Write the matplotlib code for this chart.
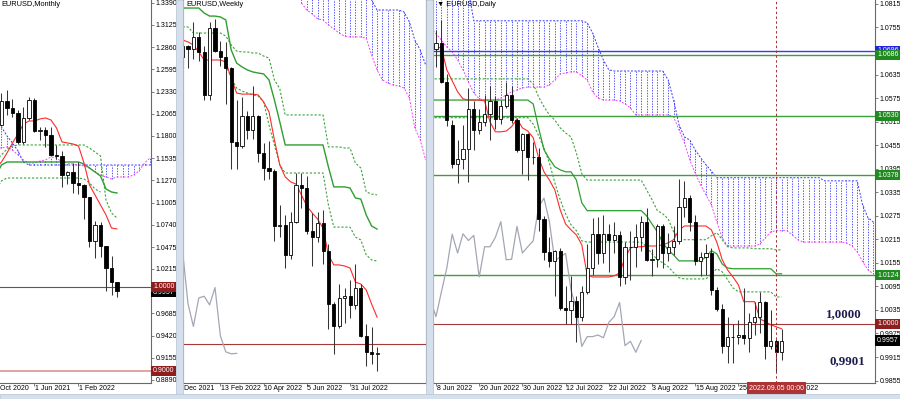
import numpy as np
import matplotlib
matplotlib.use("Agg")
import matplotlib.pyplot as plt
from matplotlib.patches import Rectangle
from matplotlib import transforms

plt.rcParams['font.family'] = ['Liberation Sans', 'DejaVu Sans']

# ---------------- MONTHLY (index 0 = Dec 2020) ----------------
m_start = -1
m_open = [1.1646, 1.1926, 1.2216, 1.2136, 1.2075, 1.1730, 1.2020, 1.2228, 1.1858, 1.1870, 1.1807, 1.1578,
          1.1558, 1.1338, 1.1370, 1.1235, 1.1220, 1.1067, 1.0545, 1.0734, 1.0484, 1.0220, 1.0054]
m_high = [1.2004, 1.2310, 1.2350, 1.2243, 1.2113, 1.2150, 1.2266, 1.2254, 1.1909, 1.1902, 1.1909, 1.1692,
          1.1616, 1.1386, 1.1483, 1.1495, 1.1233, 1.1076, 1.0787, 1.0774, 1.0485, 1.0368, 1.0057]
m_low = [1.1603, 1.1924, 1.2053, 1.2023, 1.1704, 1.1704, 1.1986, 1.1847, 1.1752, 1.1664, 1.1563, 1.1524,
         1.1186, 1.1222, 1.1121, 1.1106, 1.0806, 1.0472, 1.0349, 1.0358, 0.9952, 0.9900, 0.9876]
m_close = [1.1926, 1.2216, 1.2136, 1.2075, 1.1730, 1.2020, 1.2228, 1.1858, 1.1870, 1.1807, 1.1578, 1.1558,
           1.1338, 1.1370, 1.1235, 1.1220, 1.1067, 1.0545, 1.0734, 1.0484, 1.0220, 1.0054, 0.9957]
m_tenkan = [1.1418, 1.1490, 1.1597, 1.1717, 1.1824, 1.1943, 1.1979, 1.1979, 1.2003, 1.2015, 1.1991, 1.1896,
            1.1729, 1.1717, 1.1705, 1.1681, 1.1478, 1.1216, 1.1097, 1.0977, 1.0858, 1.0703, 1.0691]
m_kijun = [1.1335, 1.1454, 1.1490, 1.1490, 1.1490, 1.1490, 1.1490, 1.1490, 1.1490, 1.1490, 1.1490, 1.1490,
           1.1490, 1.1490, 1.1490, 1.1490, 1.1466, 1.1418, 1.1371, 1.1323, 1.1168, 1.1132, 1.1120]
m_dash_up = [1.1514, 1.1574, 1.1645, 1.1681, 1.1693, 1.1693, 1.1693, 1.1693, 1.1693, 1.1693, 1.1693, 1.1693,
             1.1693, 1.1693, 1.1693, 1.1693, 1.1693, 1.1657, 1.1609, 1.1562, 1.1037, 1.0882, 1.0822]
m_dash_lo = [1.1156, 1.1264, 1.1299, 1.1299, 1.1299, 1.1299, 1.1299, 1.1299, 1.1299, 1.1299, 1.1299, 1.1299,
             1.1299, 1.1299, 1.1299, 1.1299, 1.1287, 1.1240, 1.1168, 1.1132]
m_span_a = [1.1990, 1.1907, 1.1800, 1.1717, 1.1621, 1.1490, 1.1454, 1.1454, 1.1454, 1.1454, 1.1454, 1.1454,
            1.1454, 1.1454, 1.1454, 1.1454, 1.1454, 1.1454, 1.1454, 1.1454, 1.1454, 1.1454, 1.1454, 1.1454,
            1.1454, 1.1454, 1.1454, 1.1454, 1.1454]
m_span_b = [1.1657, 1.1657, 1.1669, 1.1633, 1.1574, 1.1514, 1.1478, 1.1478, 1.1502, 1.1514, 1.1550, 1.1538,
            1.1490, 1.1478, 1.1466, 1.1454, 1.1442, 1.1418, 1.1371, 1.1335, 1.1311, 1.1288, 1.1311, 1.1311,
            1.1311, 1.1335, 1.1383, 1.1478, 1.1538]
m_yticks = [1.3390, 1.3125, 1.2860, 1.2595, 1.2330, 1.2065, 1.1800, 1.1535, 1.1270, 1.1005, 1.0740,
            1.0475, 1.0215, 0.9685, 0.9420, 0.9155, 0.8890]
m_xticks = [6, 14]
m_xlabels = ["1 Jun 2021", "1 Feb 2022"]

# ---------------- WEEKLY (index 0 = 26 Dec 2021) ----------------
w_start = -1
w_open = [1.1238, 1.1320, 1.1370, 1.1359, 1.1413, 1.1345, 1.1145, 1.1452, 1.1348, 1.1322, 1.1269, 1.0931,
          1.0912, 1.1050, 1.0985, 1.1049, 1.0877, 1.0811, 1.0798, 1.0545, 1.0548, 1.0411, 1.0562, 1.0733,
          1.0718, 1.0519, 1.0494, 1.0555, 1.0426, 1.0185, 1.0081, 1.0212, 1.0220, 1.0180, 1.0260, 1.0037,
          0.9964, 0.9955]
w_high = [1.1360, 1.1386, 1.1376, 1.1483, 1.1435, 1.1370, 1.1483, 1.1495, 1.1395, 1.1390, 1.1274, 1.1121,
          1.1137, 1.1070, 1.1185, 1.1054, 1.0924, 1.0936, 1.0806, 1.0642, 1.0593, 1.0608, 1.0788, 1.0787,
          1.0774, 1.0601, 1.0606, 1.0615, 1.0462, 1.0194, 1.0278, 1.0258, 1.0294, 1.0368, 1.0277, 1.0090,
          1.0080, 0.9986]
w_low = [1.1222, 1.1271, 1.1272, 1.1313, 1.1301, 1.1121, 1.1122, 1.1344, 1.1280, 1.1106, 1.0806, 1.0806,
         1.0900, 1.0945, 1.0944, 1.0837, 1.0757, 1.0761, 1.0472, 1.0492, 1.0349, 1.0389, 1.0558, 1.0627,
         1.0506, 1.0358, 1.0469, 1.0366, 1.0071, 0.9952, 1.0076, 1.0096, 1.0122, 1.0160, 1.0033, 0.9900,
         0.9910, 0.9876]
w_close = [1.1320, 1.1370, 1.1359, 1.1413, 1.1345, 1.1145, 1.1452, 1.1348, 1.1322, 1.1269, 1.0931, 1.0912,
           1.1050, 1.0985, 1.1049, 1.0877, 1.0811, 1.0798, 1.0545, 1.0548, 1.0411, 1.0562, 1.0733, 1.0718,
           1.0519, 1.0494, 1.0555, 1.0426, 1.0185, 1.0081, 1.0212, 1.0220, 1.0180, 1.0260, 1.0037, 0.9964,
           0.9955, 0.9957]
w_tenkan = [1.1399, 1.1390, 1.1376, 1.1344, 1.1307, 1.1307, 1.1307, 1.1307, 1.1298, 1.1224, 1.1155, 1.1150,
            1.1150, 1.1150, 1.1146, 1.1114, 1.1068, 1.0939, 1.0824, 1.0769, 1.0746, 1.0736, 1.0686, 1.0635,
            1.0603, 1.0575, 1.0534, 1.0410, 1.0364, 1.0364, 1.0359, 1.0350, 1.0285, 1.0276, 1.0249, 1.0184,
            1.0124]
w_kijun = [1.1546, 1.1546, 1.1546, 1.1546, 1.1523, 1.1509, 1.1509, 1.1505, 1.1491, 1.1353, 1.1293, 1.1275,
           1.1261, 1.1252, 1.1247, 1.1243, 1.1215, 1.1123, 1.1022, 1.0916, 1.0916, 1.0916, 1.0916, 1.0916,
           1.0916, 1.0916, 1.0916, 1.0815, 1.0723, 1.0723, 1.0723, 1.0718, 1.0672, 1.0667, 1.0594, 1.0543,
           1.0529]
w_dash_up = [1.1459, 1.1459, 1.1431, 1.1431, 1.1431, 1.1431, 1.1431, 1.1431, 1.1417, 1.1376, 1.1348, 1.1344,
             1.1344, 1.1339, 1.1339, 1.1325, 1.1316, 1.1215, 1.1174, 1.1054, 1.1054, 1.1054, 1.1054, 1.1054,
             1.1054, 1.1054, 1.1054, 1.0907, 1.0907, 1.0907, 1.0902, 1.0902, 1.0833, 1.0810, 1.0700, 1.0690,
             1.0686]
w_dash_lo_start = 8
w_dash_lo = [1.1284, 1.1224, 1.1178, 1.1164, 1.1155, 1.1146, 1.1141, 1.1114, 1.1008, 1.0916, 1.0824,
             1.0787, 1.0787, 1.0787, 1.0787, 1.0787, 1.0787, 1.0787, 1.0787, 1.0640, 1.0538, 1.0538,
             1.0538, 1.0538, 1.0492, 1.0479, 1.0410, 1.0387, 1.0382]
w_cloud_start = 22
w_span_a = [1.1700, 1.1700, 1.1700, 1.1700, 1.1700, 1.1700, 1.1700, 1.1700, 1.1700, 1.1700, 1.1700, 1.1700,
            1.1700, 1.1583, 1.1537, 1.1537, 1.1537, 1.1537, 1.1537, 1.1528, 1.1482, 1.1399, 1.1353, 1.1284]
w_span_b = [1.1569, 1.1537, 1.1519, 1.1496, 1.1491, 1.1468, 1.1450, 1.1431, 1.1417, 1.1413, 1.1413, 1.1413,
            1.1408, 1.1330, 1.1261, 1.1215, 1.1201, 1.1192, 1.1187, 1.1178, 1.1132, 1.0994, 1.0939, 1.0847]
w_xticks = [7, 15, 23, 31]
w_xlabels = ["13 Feb 2022", "10 Apr 2022", "5 Jun 2022", "31 Jul 2022"]

# ---------------- DAILY (index 0 = 8 Jun 2022) ----------------
d_open = [1.0699, 1.0716, 1.0616, 1.0507, 1.0408, 1.0420, 1.0445, 1.0546, 1.0494, 1.0514, 1.0535, 1.0567,
          1.0521, 1.0555, 1.0582, 1.0518, 1.0443, 1.0483, 1.0426, 1.0425, 1.0266, 1.0183, 1.0160, 1.0185,
          1.0040, 1.0036, 1.0058, 1.0018, 1.0081, 1.0142, 1.0228, 1.0180, 1.0229, 1.0212, 1.0225, 1.0119,
          1.0196, 1.0196, 1.0220, 1.0260, 1.0163, 1.0164, 1.0248, 1.0180, 1.0196, 1.0211, 1.0298, 1.0320,
          1.0260, 1.0160, 1.0170, 1.0179, 1.0086, 1.0037, 0.9942, 0.9967, 0.9967, 0.9971, 0.9964, 1.0003,
          1.0018, 1.0054, 0.9944, 0.9955, 0.9927]
d_high = [1.0749, 1.0774, 1.0637, 1.0520, 1.0469, 1.0506, 1.0601, 1.0568, 1.0546, 1.0583, 1.0606, 1.0580,
          1.0570, 1.0615, 1.0606, 1.0523, 1.0487, 1.0485, 1.0462, 1.0449, 1.0275, 1.0221, 1.0187, 1.0194,
          1.0096, 1.0122, 1.0070, 1.0097, 1.0202, 1.0269, 1.0273, 1.0278, 1.0255, 1.0258, 1.0237, 1.0208,
          1.0235, 1.0254, 1.0274, 1.0294, 1.0190, 1.0254, 1.0253, 1.0230, 1.0248, 1.0368, 1.0364, 1.0327,
          1.0277, 1.0183, 1.0203, 1.0192, 1.0094, 1.0049, 1.0018, 0.9999, 1.0009, 1.0090, 1.0028, 1.0055,
          1.0080, 1.0057, 1.0034, 0.9960, 0.9986]
d_low = [1.0653, 1.0614, 1.0505, 1.0398, 1.0358, 1.0395, 1.0360, 1.0443, 1.0483, 1.0503, 1.0469, 1.0495,
         1.0510, 1.0549, 1.0511, 1.0437, 1.0382, 1.0366, 1.0406, 1.0235, 1.0162, 1.0144, 1.0071, 1.0034,
         0.9999, 0.9998, 0.9952, 1.0007, 1.0076, 1.0124, 1.0153, 1.0155, 1.0131, 1.0180, 1.0096, 1.0101,
         1.0112, 1.0145, 1.0185, 1.0160, 1.0122, 1.0145, 1.0141, 1.0160, 1.0175, 1.0202, 1.0272, 1.0235,
         1.0150, 1.0121, 1.0123, 1.0073, 1.0033, 0.9925, 0.9900, 0.9900, 0.9947, 0.9948, 0.9929, 0.9970,
         0.9977, 0.9910, 0.9935, 0.9876, 0.9907]
d_close = [1.0716, 1.0616, 1.0519, 1.0408, 1.0420, 1.0445, 1.0546, 1.0494, 1.0514, 1.0535, 1.0567, 1.0521,
           1.0555, 1.0582, 1.0518, 1.0443, 1.0483, 1.0426, 1.0425, 1.0266, 1.0183, 1.0160, 1.0185, 1.0040,
           1.0036, 1.0058, 1.0018, 1.0081, 1.0142, 1.0228, 1.0180, 1.0229, 1.0212, 1.0225, 1.0119, 1.0196,
           1.0196, 1.0220, 1.0260, 1.0163, 1.0164, 1.0248, 1.0180, 1.0196, 1.0211, 1.0298, 1.0320, 1.0260,
           1.0160, 1.0170, 1.0179, 1.0086, 1.0037, 0.9942, 0.9967, 0.9967, 0.9971, 0.9964, 1.0003, 1.0018,
           1.0054, 0.9944, 0.9955, 0.9927, 0.9957]
d_line_start = -1
d_tenkan = [1.0705, 1.0705, 1.0703, 1.0647, 1.0619, 1.0591, 1.0573, 1.0570, 1.0570, 1.0570, 1.0568,
            1.0514, 1.0489, 1.0489, 1.0491, 1.0502, 1.0522, 1.0499, 1.0491, 1.0474, 1.0423,
            1.0387, 1.0366, 1.0341, 1.0290, 1.0254, 1.0239, 1.0226, 1.0201, 1.0124, 1.0119,
            1.0119, 1.0119, 1.0119, 1.0122, 1.0129, 1.0168, 1.0193, 1.0196, 1.0196, 1.0198,
            1.0198, 1.0198, 1.0201, 1.0206, 1.0214, 1.0239, 1.0249, 1.0249, 1.0249, 1.0249,
            1.0249, 1.0239, 1.0208, 1.0163, 1.0137, 1.0119, 1.0099, 1.0056, 1.0056, 1.0056,
            1.0012, 1.0005, 0.9997, 0.9992, 0.9987]
d_kijun = [1.0570, 1.0570, 1.0570, 1.0570, 1.0570, 1.0570, 1.0570, 1.0570, 1.0570, 1.0570, 1.0570,
           1.0570, 1.0570, 1.0570, 1.0570, 1.0570, 1.0570, 1.0570, 1.0570,
           1.0560, 1.0499, 1.0443, 1.0420, 1.0400, 1.0392, 1.0387, 1.0387, 1.0366, 1.0308,
           1.0288, 1.0288, 1.0288, 1.0288, 1.0288, 1.0288, 1.0288, 1.0288, 1.0288, 1.0288, 1.0288,
           1.0275, 1.0254, 1.0234, 1.0206, 1.0188, 1.0175,
           1.0160, 1.0160, 1.0160, 1.0160, 1.0160,
           1.0170, 1.0186, 1.0178, 1.0152, 1.0142,
           1.0140, 1.0140, 1.0140, 1.0140, 1.0140, 1.0140, 1.0140, 1.0140,
           1.0127, 1.0127]
d_dash_up = [1.0624, 1.0624, 1.0624, 1.0624, 1.0624, 1.0624, 1.0624, 1.0624, 1.0624, 1.0624, 1.0624,
             1.0624, 1.0624, 1.0624, 1.0624, 1.0624, 1.0624, 1.0624, 1.0624,
             1.0611, 1.0578, 1.0553, 1.0532, 1.0519, 1.0499, 1.0486, 1.0476, 1.0435, 1.0382,
             1.0366, 1.0366, 1.0366, 1.0366, 1.0366, 1.0366, 1.0366, 1.0366, 1.0366, 1.0366, 1.0366,
             1.0341, 1.0316, 1.0288, 1.0280, 1.0267, 1.0234,
             1.0214, 1.0214, 1.0214, 1.0214, 1.0214, 1.0214,
             1.0224, 1.0232, 1.0214, 1.0196,
             1.0193, 1.0193, 1.0193, 1.0193, 1.0191, 1.0191, 1.0191, 1.0191,
             1.0188, 1.0188]
d_dash_lo = [1.0525, 1.0525, 1.0525, 1.0525, 1.0525, 1.0525, 1.0525, 1.0525, 1.0525, 1.0525, 1.0525,
             1.0525, 1.0525, 1.0525, 1.0525, 1.0525, 1.0525, 1.0525, 1.0525,
             1.0509, 1.0479, 1.0448, 1.0410, 1.0359, 1.0316, 1.0280, 1.0252, 1.0237, 1.0211,
             1.0208, 1.0208, 1.0208, 1.0208, 1.0208, 1.0208, 1.0208, 1.0208, 1.0208, 1.0208, 1.0208,
             1.0196, 1.0178, 1.0163, 1.0155, 1.0145, 1.0130, 1.0117,
             1.0114, 1.0114, 1.0114, 1.0114, 1.0114,
             1.0127, 1.0140, 1.0132, 1.0112, 1.0091,
             1.0081, 1.0081, 1.0081, 1.0081, 1.0081, 1.0081, 1.0081,
             1.0068, 1.0068]
d_span_a = [1.0850, 1.0850, 1.0850, 1.0850, 1.0850, 1.0850, 1.0850, 1.0850,
            1.0772, 1.0772, 1.0772, 1.0772, 1.0772, 1.0772, 1.0772, 1.0772, 1.0772, 1.0772, 1.0772,
            1.0772, 1.0772, 1.0772, 1.0772, 1.0772, 1.0772, 1.0772, 1.0772, 1.0772, 1.0772,
            1.0767, 1.0741, 1.0705, 1.0672, 1.0647,
            1.0644, 1.0644, 1.0644, 1.0644, 1.0644, 1.0644, 1.0644, 1.0644, 1.0644, 1.0644,
            1.0621, 1.0570, 1.0507, 1.0476, 1.0468, 1.0443, 1.0423, 1.0405, 1.0389,
            1.0372, 1.0372, 1.0372, 1.0372, 1.0372, 1.0372, 1.0372, 1.0372, 1.0372, 1.0372,
            1.0372, 1.0372, 1.0372, 1.0372, 1.0372, 1.0372, 1.0372, 1.0372, 1.0372, 1.0372,
            1.0364, 1.0364, 1.0364, 1.0364, 1.0364, 1.0364, 1.0364,
            1.0303, 1.0270, 1.0259]
d_span_b = [1.0754, 1.0739, 1.0723, 1.0705, 1.0693, 1.0672, 1.0647, 1.0616, 1.0588, 1.0573,
            1.0570, 1.0570, 1.0570, 1.0575, 1.0583, 1.0591, 1.0596, 1.0601, 1.0603, 1.0603,
            1.0603, 1.0603, 1.0609, 1.0621, 1.0637, 1.0639, 1.0642, 1.0642, 1.0632, 1.0621,
            1.0591, 1.0575, 1.0570, 1.0570, 1.0570, 1.0568, 1.0560, 1.0550, 1.0532, 1.0532,
            1.0532, 1.0532, 1.0532, 1.0532, 1.0532, 1.0527, 1.0494, 1.0461, 1.0417, 1.0384,
            1.0354, 1.0328, 1.0303, 1.0259, 1.0219, 1.0198, 1.0198, 1.0198, 1.0198, 1.0198,
            1.0198, 1.0203, 1.0219, 1.0234, 1.0237, 1.0237, 1.0237, 1.0226, 1.0214, 1.0208,
            1.0208, 1.0208, 1.0208, 1.0208, 1.0208, 1.0208, 1.0208, 1.0206, 1.0198, 1.0183,
            1.0158, 1.0137, 1.0127]
d_levels_green = [1.0686, 1.0530, 1.0378, 1.0124]
d_level_blue = 1.0696
level_round = 1.0000
level_monthly_low = 0.9000
last_price = 0.9957
d_yticks = [1.0815, 1.0755, 1.0695, 1.0635, 1.0575, 1.0515, 1.0455, 1.0395, 1.0335, 1.0275, 1.0215,
            1.0155, 1.0095, 1.0035, 0.9975, 0.9915, 0.9855]
d_xticks = [0, 8, 16, 24, 32, 40, 48, 56, 64]
d_xlabels = ["8 Jun 2022", "20 Jun 2022", "30 Jun 2022", "12 Jul 2022", "22 Jul 2022",
             "3 Aug 2022", "15 Aug 2022", "25 Aug 2022", "6 Sep 2022"]
d_cursor = 63
d_cursor_label = "2022.09.05 00:00"
note_levels = [1.0000, 0.9901]
note_texts = ["1,0000", "0,9901"]

# ---------------- colours ----------------
C_TENKAN = '#ff2a2a'
C_KIJUN = '#2f9e2f'
C_DASH = '#3aa33a'
C_SPAN_A = '#3434ff'
C_SPAN_B = '#ff3cff'
C_CHIKOU = '#a3a7b4'
C_ROUND = '#a33a3a'
C_LEVEL = '#3c9f3c'
C_AXIS = '#6a6a6a'
C_BORDER = '#d5e0ec'

FIG_W, FIG_H = 900, 399
fig = plt.figure(figsize=(9.0, 3.99), dpi=100)
fig.patch.set_facecolor('white')


def add_px_axes(x0, x1, y0, y1):
    return fig.add_axes([x0 / FIG_W, 1 - y1 / FIG_H, (x1 - x0) / FIG_W, (y1 - y0) / FIG_H])


for (x0, x1, y0, y1) in [(176, 183, 0, 399), (426, 433, 0, 399), (0, 900, 394, 399)]:
    fig.patches.append(Rectangle((x0 / FIG_W, 1 - y1 / FIG_H), (x1 - x0) / FIG_W, (y1 - y0) / FIG_H,
                                 transform=fig.transFigure, fc=C_BORDER, ec='#b4c3d4', lw=0.5, zorder=0))


def xs(start, arr):
    return np.arange(start, start + len(arr))


def candles(ax, start, o, h, l, c, width=0.56):
    o, h, l, c = map(np.asarray, (o, h, l, c))
    x = xs(start, o)
    ax.vlines(x, l, h, colors='#353535', lw=0.75, zorder=4)
    up = c >= o
    bottoms = np.minimum(o, c)
    heights = np.abs(c - o)
    ax.bar(x[up], heights[up], width, bottom=bottoms[up], facecolor='white', edgecolor='black',
           lw=0.6, zorder=5)
    ax.bar(x[~up], heights[~up], width, bottom=bottoms[~up], facecolor='black', edgecolor='black',
           lw=0.6, zorder=5)


def cloud(ax, start, a, b):
    x = xs(start, a)
    lo = np.minimum(a, b)
    hi = np.maximum(a, b)
    ax.vlines(x, lo, hi, colors=C_SPAN_A, linestyles=(0, (1.6, 1.6)), lw=0.6, zorder=1)
    ax.plot(x, a, color=C_SPAN_A, ls=(0, (2, 1.6)), lw=0.7, zorder=1.2)
    ax.plot(x, b, color=C_SPAN_B, ls=(0, (2, 1.6)), lw=0.7, zorder=1.2)


def line(ax, start, arr, color, ls='-', lw=0.8, z=2):
    ax.plot(xs(start, arr), arr, color=color, ls=ls, lw=lw, zorder=z)


def style_axes(ax, left, right, bottom=True):
    ax.set_facecolor('white')
    for side in ['top', 'left', 'right', 'bottom']:
        ax.spines[side].set_visible(False)
    for side, vis in (('left', left), ('right', right), ('bottom', bottom)):
        if vis:
            ax.spines[side].set_visible(True)
            ax.spines[side].set_color(C_AXIS)
            ax.spines[side].set_linewidth(0.8)
    ax.tick_params(axis='x', length=2.5, width=0.6, color=C_AXIS, labelbottom=False)
    ax.tick_params(axis='y', length=2, width=0.6, color=C_AXIS, labelsize=5, pad=1.5)


def date_label(ax, x, s, dx=0.5):
    tr = transforms.blended_transform_factory(ax.transData, ax.transAxes) + \
        transforms.ScaledTranslation(dx / 100, -2.2 / 100, fig.dpi_scale_trans)
    ax.text(x, 0, s, transform=tr, ha='left', va='top', fontsize=5, clip_on=False, zorder=6)


def price_tag(ax, y, s, fc, dx=2.0, z=10):
    tr = transforms.blended_transform_factory(ax.transAxes, ax.transData) + \
        transforms.ScaledTranslation(dx / 100, 0, fig.dpi_scale_trans)
    ax.text(1.0, y, s, transform=tr, ha='left', va='center', fontsize=5, color='white',
            bbox=dict(boxstyle='square,pad=0.22', fc=fc, ec='none'), zorder=z, clip_on=False)


def title(ax, s, dx=2):
    tr = ax.transAxes + transforms.ScaledTranslation(dx / 100, -1.5 / 100, fig.dpi_scale_trans)
    ax.text(0, 1, s, transform=tr, ha='left', va='top', fontsize=5.3, color='black', zorder=12)


# ================= MONTHLY =================
axM = add_px_axes(0, 151, 0, 382.5)
style_axes(axM, left=False, right=True)
axM.set_xlim(-0.27, 27.18)
axM.set_ylim(0.8860, 1.3422)
cloud(axM, m_start, m_span_a, m_span_b)
line(axM, m_start, m_dash_up, C_DASH, ls=(0, (2, 1.6)), lw=0.8)
line(axM, m_start, m_dash_lo, C_DASH, ls=(0, (2, 1.6)), lw=0.8)
line(axM, m_start, m_kijun, C_KIJUN, lw=1.0)
line(axM, m_start, m_tenkan, C_TENKAN, lw=0.8)
axM.axhline(level_round, color=C_ROUND, lw=0.8, zorder=1.5)
axM.axhline(level_monthly_low, color='#e4a2a2', lw=1.4, zorder=1.5)
candles(axM, m_start, m_open, m_high, m_low, m_close)
axM.yaxis.tick_right()
axM.set_yticks(m_yticks)
axM.set_yticklabels([f'{v:.4f}' for v in m_yticks])
axM.set_xticks(m_xticks)
for x, s in zip(m_xticks, m_xlabels):
    date_label(axM, x, s)
date_label(axM, -0.18, "Oct 2020", dx=0)
price_tag(axM, last_price - 0.0022, f'{last_price:.4f}', 'black', dx=2.0, z=9)
price_tag(axM, level_round, f'{level_round:.4f}', '#8e1d1d', dx=2.0, z=10)
price_tag(axM, level_monthly_low, f'{level_monthly_low:.4f}', '#8e1d1d', dx=2.0, z=10)
title(axM, 'EURUSD,Monthly', dx=1.5)

# ================= WEEKLY =================
axW = add_px_axes(183, 426, 0, 382.5)
style_axes(axW, left=True, right=True)
axW.set_xlim(0.074, 45.07)
axW.set_ylim(0.9823, 1.1583)
cloud(axW, w_cloud_start, w_span_a, w_span_b)
line(axW, w_start + 1, w_dash_up, C_DASH, ls=(0, (2, 1.6)), lw=0.8)
line(axW, w_dash_lo_start, w_dash_lo, C_DASH, ls=(0, (2, 1.6)), lw=0.8)
line(axW, w_start + 1, w_kijun, C_KIJUN, lw=1.0)
line(axW, w_start + 1, w_tenkan, C_TENKAN, lw=0.8)
w_x = xs(w_start, w_close)
axW.plot(w_x[26:] - 26, w_close[26:], color=C_CHIKOU, lw=0.9, zorder=2)
axW.axhline(level_round, color=C_ROUND, lw=0.8, zorder=1.5)
candles(axW, w_start, w_open, w_high, w_low, w_close)
axW.set_yticks([])
axW.set_xticks(w_xticks)
for x, s in zip(w_xticks, w_xlabels):
    date_label(axW, x, s)
date_label(axW, 0.35, "Dec 2021", dx=0)
title(axW, 'EURUSD,Weekly', dx=3)

# ================= DAILY =================
axD = add_px_axes(433, 875, 0, 382.5)
style_axes(axD, left=True, right=True)
axD.set_xlim(-0.556, 81.3)
axD.set_ylim(0.9850, 1.0825)
cloud(axD, d_line_start, d_span_a, d_span_b)
axD.axhline(d_level_blue, color='#3a3aff', lw=1.0, zorder=1.5)
for lv in d_levels_green:
    axD.axhline(lv, color=C_LEVEL, lw=1.0, zorder=1.5)
axD.axhline(level_round, color=C_ROUND, lw=0.8, zorder=1.5)
line(axD, d_line_start, d_dash_up, C_DASH, ls=(0, (2, 1.6)), lw=0.8)
line(axD, d_line_start, d_dash_lo, C_DASH, ls=(0, (2, 1.6)), lw=0.8)
line(axD, d_line_start, d_kijun, C_KIJUN, lw=0.9)
line(axD, d_line_start, d_tenkan, C_TENKAN, lw=0.8)
d_x = xs(0, d_close)
axD.plot(d_x[25:] - 26, d_close[25:], color=C_CHIKOU, lw=0.9, zorder=2)
candles(axD, 0, d_open, d_high, d_low, d_close)
axD.axvline(d_cursor, color='#a33030', ls=(0, (2.5, 2.5)), lw=0.7, zorder=6)
axD.yaxis.tick_right()
axD.set_yticks(d_yticks)
axD.set_yticklabels([f'{v:.4f}' for v in d_yticks])
axD.set_xticks(d_xticks)
for x, s in zip(d_xticks, d_xlabels):
    date_label(axD, x, s)
tr = transforms.blended_transform_factory(axD.transData, axD.transAxes) + \
    transforms.ScaledTranslation(0, -2.0 / 100, fig.dpi_scale_trans)
axD.text(d_cursor, 0, d_cursor_label, transform=tr, ha='center', va='top', fontsize=5, color='white',
         bbox=dict(boxstyle='square,pad=0.3', fc='#ad3434', ec='none'), zorder=11, clip_on=False)
price_tag(axD, d_level_blue, f'{d_level_blue:.4f}', '#2323e6', z=9)
for lv in d_levels_green:
    price_tag(axD, lv, f'{lv:.4f}', '#1f8a1f', z=10)
price_tag(axD, level_round, f'{level_round:.4f}', '#8e1d1d', z=10)
price_tag(axD, last_price, f'{last_price:.4f}', 'black', z=10)
for lv, s, xpos in zip(note_levels, note_texts, [75.6, 76.1]):
    axD.text(xpos, lv + 0.0025 if lv == 1.0 else lv + 0.0004, s, ha='center', va='center',
             fontsize=9.3, fontweight='bold', family=['Liberation Serif', 'DejaVu Serif'],
             color='#1b1b4d', zorder=12)
title(axD, '\u25bc EURUSD,Daily', dx=4)

fig.savefig('out.png', dpi=100, facecolor='white')
